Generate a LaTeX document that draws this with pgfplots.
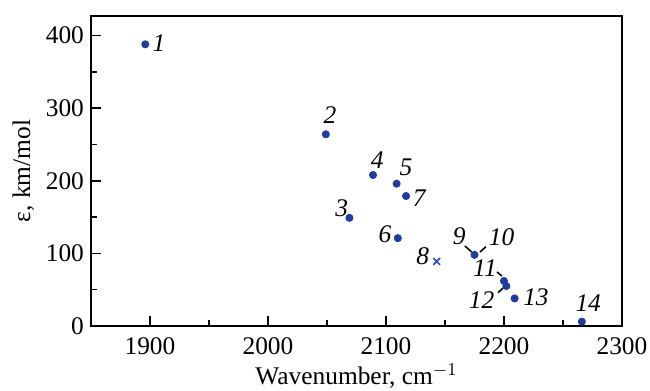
\documentclass[border=0pt]{standalone}
\usepackage{pgfplots}
\pgfplotsset{compat=1.18}
\usepackage{fontspec}
\setmainfont{Liberation Serif}
\definecolor{dotblue}{RGB}{32,60,158}
\definecolor{xblue}{RGB}{40,80,190}
\newcommand{\tl}[1]{\hbox{\fontsize{12.7}{15}\selectfont\rmfamily #1}}
\begin{document}
\begin{tikzpicture}[font=\fontsize{12.7}{15}\selectfont]
\useasboundingbox (-45.5pt,-32.5pt) rectangle (279.5pt,163pt);
\begin{axis}[
  at={(0,0)}, anchor=south west,
  scale only axis, width=265.5pt, height=155pt,
  xmin=1850, xmax=2300, ymin=0, ymax=427,
  xtick={1900,2000,2100,2200,2300},
  xticklabels={\tl{1900},\tl{2000},\tl{2100},\tl{2200},\tl{2300}},
  ytick={0,100,200,300,400},
  yticklabels={\tl{0},\tl{100},\tl{200},\tl{300},\tl{400}},
  minor x tick num=1, minor y tick num=1,
  tick align=inside, xtick pos=bottom, ytick pos=left,
  major tick length=5pt, minor tick length=3pt,
  axis line style={line width=0.9pt},
  every tick/.style={black, line width=0.8pt},
  xticklabel style={yshift=-2.5pt},
  xlabel={Wavenumber, cm$^{-1}$},
  ylabel={ε, km/mol},
  xlabel style={yshift=2.5pt},
  ylabel style={yshift=-1pt},
  clip=false,
]
\addplot[only marks, mark=*, mark size=1.8pt, color=dotblue] coordinates {
  (1896,388) (2049,264) (2069,149) (2089,208) (2109,196) (2110,121)
  (2117,179) (2175,98) (2200,62) (2202,55) (2209,38) (2266,6)
};
\addplot[only marks, mark=x, mark size=2.4pt, color=xblue, mark options={line width=0.8pt}] coordinates {
  (2143,89)
};
\draw[line width=0.8pt] (axis cs:2166.9,110.2) -- (axis cs:2172.6,101.9);
\draw[line width=0.8pt] (axis cs:2179.7,101.9) -- (axis cs:2184.7,109.2);
\draw[line width=0.8pt] (axis cs:2194.1,74.4) -- (axis cs:2198.3,68.9);
\draw[line width=0.8pt] (axis cs:2194.9,45.9) -- (axis cs:2199.2,52.3);
\begin{scope}[every node/.style={font=\fontsize{12.7}{15}\selectfont\itshape, inner sep=0pt}]
\node at (axis cs:1907.6,390) {1};
\node at (axis cs:2052.5,290.6) {2};
\node at (axis cs:2062.5,162) {3};
\node at (axis cs:2092.6,228.6) {4};
\node at (axis cs:2117,218.6) {5};
\node at (axis cs:2099.2,126.7) {6};
\node at (axis cs:2128.2,175.9) {7};
\node at (axis cs:2131.1,95.5) {8};
\node at (axis cs:2162.1,123) {9};
\node at (axis cs:2198,123) {10};
\node at (axis cs:2183.9,79.5) {11};
\node at (axis cs:2181.1,35.8) {12};
\node at (axis cs:2227.1,39) {13};
\node at (axis cs:2271.4,31.3) {14};
\end{scope}
\end{axis}
\end{tikzpicture}
\end{document}
